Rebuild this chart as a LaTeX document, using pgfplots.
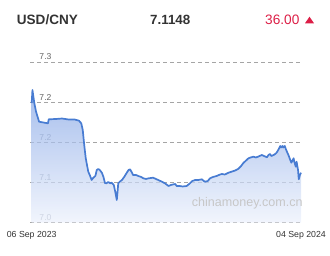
\documentclass[border=0pt]{standalone}
\usepackage{pgfplots}
\pgfplotsset{compat=1.18}
\usepackage{pgfplotstable}
\usepackage{fontspec}
\setmainfont{Liberation Sans}
\definecolor{linec}{RGB}{72,124,210}
\definecolor{filltop}{RGB}{128,162,228}
\definecolor{fillbot}{RGB}{236,241,252}
\definecolor{txt}{RGB}{51,51,51}
\definecolor{redc}{RGB}{220,30,70}
\definecolor{gridc}{RGB}{165,165,165}
\definecolor{labdark}{RGB}{100,100,100}
\definecolor{lablight}{RGB}{150,156,170}

\pgfplotstableread{
d v
0 7.2191
1 7.2386
3.5 7.2191
6 7.2056
10 7.1911
22 7.1887
23 7.1947
33 7.1952
41 7.1959
50 7.1944
58 7.1944
64 7.1926
67 7.1887
69 7.1787
71 7.1563
73 7.1368
75 7.1248
76.5 7.1163
79 7.1099
81 7.1039
83 7.1069
86 7.1099
88 7.1189
90 7.1204
92 7.1189
95 7.1144
97 7.1084
99 7.0994
101 7.0990
103.5 7.1009
106 7.0990
108 7.0999
111 7.0964
113 7.0859
115 7.0740
116 7.0859
117 7.0990
119 7.1013
122 7.1039
125 7.1084
128 7.1139
131 7.1189
133 7.1199
135 7.1159
137 7.1114
141 7.1114
144 7.1099
148 7.1084
151 7.1064
154.5 7.1054
158 7.1064
161 7.1069
164 7.1073
168 7.1054
171 7.1039
176 7.1013
180 7.0990
185 7.0949
188 7.0964
191 7.0972
194 7.0979
196 7.0949
200 7.0949
204 7.0942
209.5 7.0949
214 7.0990
217 7.1024
221 7.1039
225 7.1039
230 7.1049
234 7.1013
238 7.1024
241 7.1064
245 7.1084
250 7.1099
253 7.1114
257 7.1129
261 7.1121
266 7.1148
270 7.1163
275 7.1181
279 7.1204
283 7.1248
286 7.1293
288 7.1313
293 7.1364
296 7.1376
299.5 7.1388
303 7.1376
306 7.1388
311 7.1413
314 7.1398
318 7.1379
320 7.1413
322 7.1428
324 7.1398
327 7.1413
329 7.1428
331 7.1447
334 7.1503
336 7.1548
337 7.1525
339 7.1548
340 7.1525
342 7.1548
344 7.1488
347 7.1413
349 7.1353
351 7.1298
354 7.1364
355 7.1308
357 7.1238
358 7.1313
360 7.1190
361 7.1049
362.5 7.1114
364 7.1148
}\rates

\begin{document}
\begin{tikzpicture}
\begin{axis}[
  at={(30bp,33.3bp)}, anchor=south west,
  scale only axis, width=271bp, height=160.4bp,
  xmin=-2.3, xmax=364, ymin=7.04, ymax=7.28,
  axis line style={draw=none},
  tick style={draw=none},
  ytick={7.04,7.10,7.16,7.22,7.28},
  yticklabels={\textcolor{lablight}{7.0},\textcolor{lablight}{7.1},\textcolor{lablight}{7.2},7.2,7.3},
  xtick={0,364},
  xticklabels={06 Sep 2023,04 Sep 2024},
  ymajorgrids,
  grid style={gridc, line width=0.8bp, dash pattern=on 4bp off 3bp},
  yticklabel style={anchor=base west, inner sep=0pt, xshift=9.3bp, yshift=2.3bp,
     font=\fontsize{8.6}{9}\selectfont, text=labdark},
  xticklabel style={anchor=base, inner sep=0pt, yshift=-14.3bp,
     font=\fontsize{8.8}{9}\selectfont, text=txt},
  clip=false,
]
\addplot[top color=filltop, bottom color=fillbot, fill opacity=0.7, draw=none, forget plot]
  table[x=d, y=v] {\rates} -- (axis cs:364,7.04) -- (axis cs:0,7.04) -- cycle;
\addplot[linec, line width=1.7bp, line join=round] table[x=d, y=v] {\rates};
\end{axis}
\node[anchor=base west, inner sep=0pt, font=\fontsize{12.6}{13}\selectfont, text=black!22] at (191.7bp,49bp) {chinamoney.com.cn};
\node[anchor=base west, inner sep=0pt, font=\fontsize{13.6}{14}\selectfont\bfseries, text=txt] at (16.7bp,231.5bp) {USD/CNY};
\node[anchor=base west, inner sep=0pt, font=\fontsize{13.4}{14}\selectfont\bfseries, text=txt] at (150bp,231.5bp) {7.1148};
\node[anchor=base west, inner sep=0pt, font=\fontsize{13.7}{14}\selectfont, text=redc] at (265bp,231.5bp) {36.00};
\fill[redc] (305bp,232.7bp) -- (314bp,232.7bp) -- (309.5bp,239.3bp) -- cycle;
\path[use as bounding box] (0,0) rectangle (330bp,256bp);
\end{tikzpicture}
\end{document}
